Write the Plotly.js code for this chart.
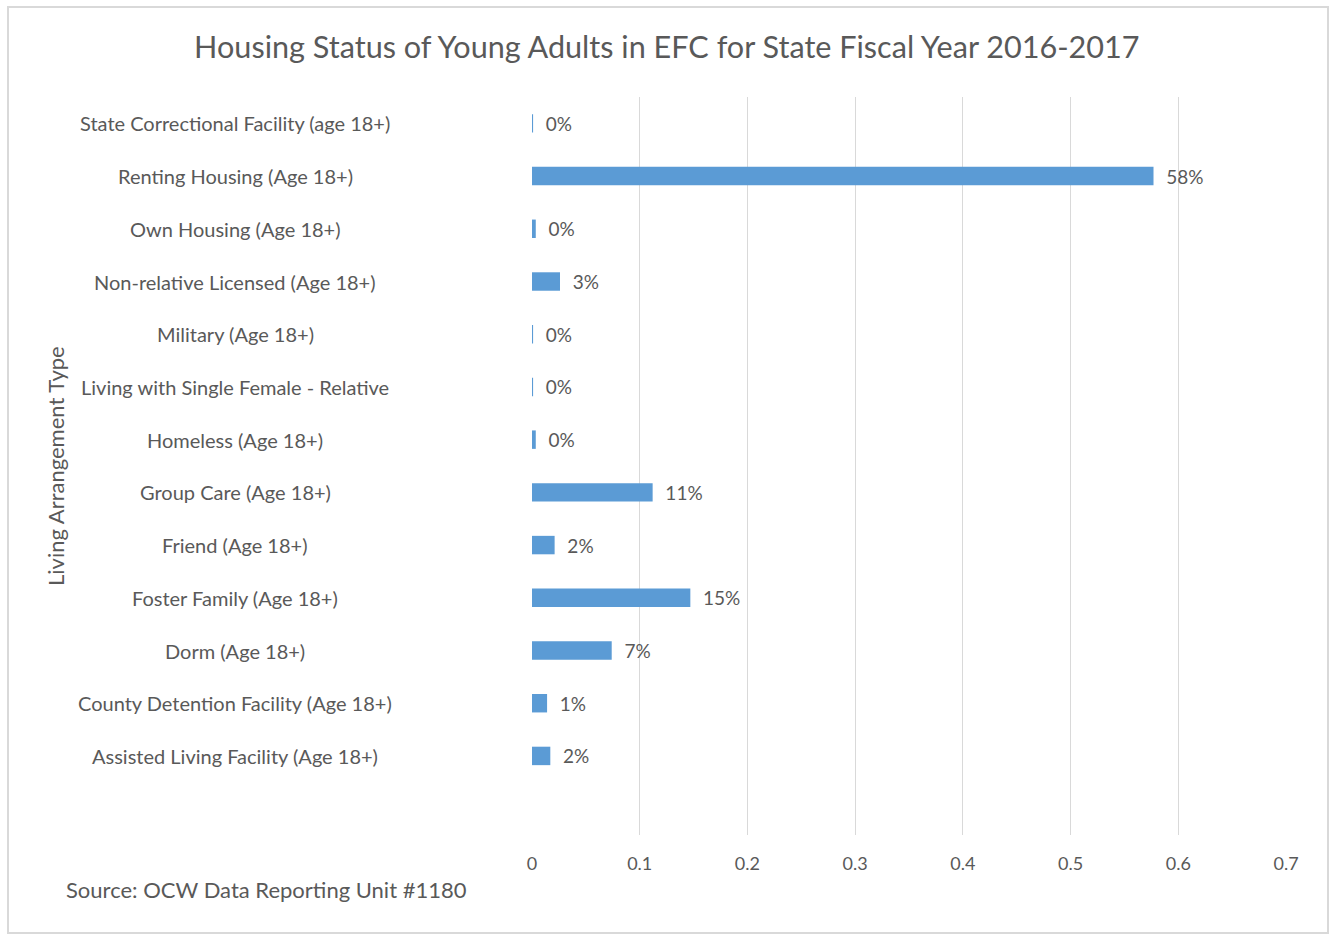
<!DOCTYPE html>
<html><head><meta charset="utf-8">
<script src="https://cdn.plot.ly/plotly-3.0.1.min.js"></script>
<style>
html,body{margin:0;padding:0;background:#fff;}
#chart{width:1331px;height:934px;}
#frame{position:absolute;left:7px;top:6px;width:1318px;height:924px;border:2px solid #d9d9d9;pointer-events:none;}
</style></head>
<body>
<div id="chart"></div>
<div id="frame"></div>
<script>
const categories = [
  "Assisted Living Facility (Age 18+)",
  "County Detention Facility (Age 18+)",
  "Dorm (Age 18+)",
  "Foster Family (Age 18+)",
  "Friend (Age 18+)",
  "Group Care (Age 18+)",
  "Homeless (Age 18+)",
  "Living with Single Female - Relative",
  "Military (Age 18+)",
  "Non-relative Licensed (Age 18+)",
  "Own Housing (Age 18+)",
  "Renting Housing (Age 18+)",
  "State Correctional Facility (age 18+)"
];
const shares = [0.017, 0.014, 0.074, 0.147, 0.021, 0.112, 0.0035, 0.001, 0.001, 0.026, 0.0035, 0.577, 0.001];
const xTicks = [0, 0.1, 0.2, 0.3, 0.4, 0.5, 0.6, 0.7];
const xTickText = ["0", "0.1", "0.2", "0.3", "0.4", "0.5", "0.6", "0.7"];

const FONT = "Lato, 'Open Sans', sans-serif";
const GREY = "#595959";

const trace = {
  type: "bar",
  orientation: "h",
  y: categories,
  x: shares,
  width: 0.35,
  marker: {color: "#5b9bd5"},
  texttemplate: "\u00A0\u00A0%{x:.0%}",
  textposition: "outside",
  constraintext: "none",
  cliponaxis: false,
  textfont: {family: FONT, size: 19, color: GREY},
  hoverinfo: "x+y"
};

const annotations = categories.map(c => ({
  x: 0, xref: "paper", xanchor: "center", xshift: 235 - 532,
  y: c, yref: "y", yanchor: "middle",
  text: c, showarrow: false,
  font: {family: FONT, size: 20, color: GREY}
}));

annotations.push({
  x: 0, xref: "paper", xshift: 55 - 532, xanchor: "center",
  y: 0.5, yref: "paper", yanchor: "middle", yshift: 0,
  text: "Living Arrangement Type", textangle: -90, showarrow: false,
  font: {family: FONT, size: 22, color: GREY}
});
annotations.push({
  x: 0, xref: "paper", xshift: 64 - 532, xanchor: "left",
  y: 0, yref: "paper", yshift: -54, yanchor: "middle",
  text: "Source: OCW Data Reporting Unit #1180", showarrow: false,
  font: {family: FONT, size: 22, color: GREY}
});

const layout = {
  width: 1331, height: 934,
  margin: {l: 532, r: 45, t: 97, b: 99},
  paper_bgcolor: "#fff", plot_bgcolor: "#fff",
  title: {text: "Housing Status of Young Adults in EFC for State Fiscal Year 2016-2017",
          x: 0.501, xref: "container", xanchor: "center",
          y: 1 - 47/934, yref: "container", yanchor: "middle",
          font: {family: FONT, size: 30.6, color: GREY}},
  xaxis: {range: [0, 0.7], tickvals: xTicks, ticktext: xTickText,
          showgrid: true, gridcolor: "#d9d9d9", gridwidth: 1,
          zeroline: false, showline: false, ticks: "", ticklen: 0,
          ticklabelstandoff: 16,
          tickfont: {family: FONT, size: 18, color: GREY}, fixedrange: true},
  yaxis: {type: "category", categoryorder: "array", categoryarray: categories,
          range: [-1.5, 12.5], showticklabels: false, showgrid: false,
          zeroline: false, showline: false, ticks: "", fixedrange: true},
  annotations: annotations,
  showlegend: false
};

Plotly.newPlot("chart", [trace], layout, {displayModeBar: false, staticPlot: true});
</script>
</body></html>
